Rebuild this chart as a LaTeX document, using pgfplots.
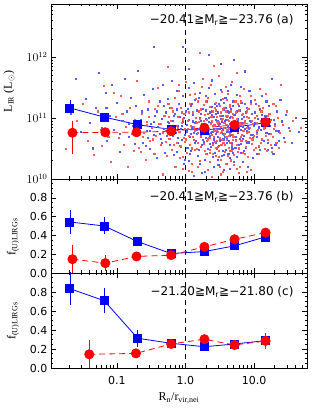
\documentclass[border=0pt]{standalone}
\usepackage{fontspec}
\setmainfont{Liberation Serif}
\newfontfamily\dejavu{DejaVu Sans}
\usepackage{pgfplots}
\pgfplotsset{compat=1.18}
\begin{document}
\begin{tikzpicture}[x=1pt,y=1pt]
\path[use as bounding box] (0,0) rectangle (315,409);

% ---------------- panel (a)
\begin{axis}[scale only axis, width=256pt, height=175pt, anchor=south west, at={(51pt,230pt)},
    xmode=log, xmin=0.011, xmax=59,
    ymode=log, ymin=1e10, ymax=7.5e12,
    axis line style={line width=0.7pt},
    every tick/.style={black, line width=0.5pt},
    major tick length=5pt, minor tick length=2.5pt,
    xtick={0.1,1,10}, xticklabels={},
    minor xtick={0.02,0.03,0.04,0.05,0.06,0.07,0.08,0.09,0.2,0.3,0.4,0.5,0.6,0.7,0.8,0.9,2,3,4,5,6,7,8,9,20,30,40,50},
    xtick pos=both, ytick pos=both, tick align=inside,
    ytick={1e10,1e11,1e12}, yticklabels={$10^{10}$,$10^{11}$,$10^{12}$},
    yticklabel style={font=\fontsize{12}{12}\selectfont},
    minor ytick={2e10,3e10,4e10,5e10,6e10,7e10,8e10,9e10,2e11,3e11,4e11,5e11,6e11,7e11,8e11,9e11,2e12,3e12,4e12,5e12,6e12,7e12}]
\addplot[only marks, color=blue!65, mark=square*, mark size=0.55pt, mark options={draw=none, fill=blue!65, fill opacity=0.8}] coordinates {
(0.021,1.2e11) (0.025,4.5e11) (0.03,6e10) (0.035,2.1e11) (0.04,8.5e10) (0.045,3.2e10) (0.05,1.5e11) (0.055,5.5e11) (0.06,7e10) (0.068,2.6e11) (0.072,4.2e10) (0.08,1.1e11) (0.085,3.5e11) (0.09,6.5e10) (0.1,1.8e11) (0.11,2.8e10) (0.12,9e10) (0.13,4.5e11) (0.14,1.3e11) (0.15,5e10) (0.16,2.2e11) (0.17,7.5e10) (0.18,3.8e10) (0.19,1.6e11) (0.2,6e11)
(0.22,9.5e10) (0.24,4e10) (0.25,2.4e11) (0.27,6.2e10) (0.28,1.4e11) (0.3,3.1e10) (0.31,8e10) (0.33,3e11) (0.35,5.3e10) (0.36,1.1e11) (0.38,2.2e10) (0.4,7.2e10) (0.42,1.9e11) (0.43,4.6e10) (0.45,9.8e10) (0.47,3.6e11) (0.48,6.6e10) (0.5,2.7e10) (0.52,1.25e11) (0.54,5.1e10) (0.55,2.1e11) (0.57,8.3e10) (0.59,3.7e10) (0.6,1.5e11)
(0.62,6.1e10) (0.64,4.1e11) (0.66,9e10) (0.68,2.5e10) (0.7,1.2e11) (0.72,5.7e10) (0.74,2.8e11) (0.76,7.4e10) (0.78,3.9e10) (0.8,1.7e11) (0.82,1.05e11) (0.85,6.8e10) (0.87,4.4e10) (0.9,2.3e11) (0.92,8.6e10) (0.95,1.8e10) (0.97,5.4e10) (1.0,1.3e11) (1.03,7.8e10) (1.06,3.3e10) (1.1,6.4e11) (1.12,9.4e10) (1.15,4.9e10) (1.18,1.6e11) (1.2,2.9e10) (1.25,7.1e10) (1.28,1.15e11) (1.3,3.8e11) (1.33,5.8e10) (1.37,2.0e11) (1.4,8.8e10) (1.43,4.3e10) (1.47,1.35e11) (1.5,2.4e10) (1.55,6.7e10) (1.6,1.0e11) (1.63,2.6e11) (1.67,5.2e10) (1.7,8.1e10) (1.75,3.6e10) (1.8,1.45e11) (1.85,6.3e10) (1.9,2.1e10) (1.95,9.7e10) (2.0,4.7e10) (2.05,1.9e11) (2.1,7.3e10) (2.15,3.2e11) (2.2,5.6e10) (2.25,1.25e11) (2.3,3.4e10) (2.35,8.4e10) (2.4,1.55e11) (2.45,6.0e10) (2.5,2.3e10) (2.55,1.05e11) (2.6,4.5e10) (2.65,2.5e11) (2.7,7.7e10) (2.75,3.9e10) (2.8,1.2e11) (2.85,5.9e10) (2.9,9.1e10) (3.0,1.7e10) (3.05,1.75e11) (3.1,6.6e10) (3.2,4.2e10) (3.25,1.1e11) (3.3,7.9e11) (3.4,8.7e10) (3.45,2.9e10) (3.5,5.5e10) (3.6,1.4e11) (3.7,7.0e10) (3.75,3.7e10) (3.8,2.2e11) (3.9,9.3e10) (4.0,4.8e10) (4.1,1.3e11) (4.2,2.6e10) (4.3,6.9e10) (4.4,1.0e11) (4.5,3.5e11) (4.6,5.3e10) (4.7,8.0e10) (4.8,3.1e10) (4.9,1.6e11) (5.0,6.2e10) (5.1,1.95e10) (5.2,1.15e11) (5.35,4.4e10) (5.5,7.6e10) (5.6,2.4e11) (5.7,5.7e10) (5.85,9.6e10) (6.0,3.6e10) (6.1,1.35e11) (6.3,6.5e10) (6.4,2.7e10) (6.5,1.8e11) (6.7,8.5e10) (6.9,4.6e10) (7.0,1.05e11) (7.2,5.9e11) (7.4,6.8e10) (7.6,3.3e10) (7.8,1.5e11) (8.0,7.2e10) (8.2,4.1e10) (8.5,2.8e11) (8.7,9.2e10) (9.0,5.4e10) (9.3,1.2e11) (9.6,2.2e10) (10,7.5e10) (10.4,1.7e11) (10.8,4.9e10) (11.2,9.9e10) (11.6,3.4e10) (12,1.4e11) (12.5,6.4e10) (13,2.3e11) (13.5,8.2e10) (14,4.3e10) (14.5,1.1e11) (15,5.8e10) (15.6,3.0e10) (16.2,1.6e11) (17,7.4e10) (17.8,4.5e11) (18.5,5.0e10) (19.4,9.5e10) (20.3,3.7e10) (21.5,1.3e11) (22.6,6.1e10) (24,2.0e11) (25.5,8.9e10) (27,4.7e10) (29,1.15e11) (32,7e10) (35,3.9e10) (40,1.0e11) (2.2,1.1e12) (0.9,1.5e12) (5,9e11) (1.7,1.25e10) (3.6,1.4e10) (8,1.6e10) (0.35,1.5e12) (45,6e10)
(0.55,8.8e10) (0.65,5.1e10) (0.75,1.4e11) (0.85,3.4e10) (0.95,1.0e11) (1.05,6.1e10) (1.15,2.6e10) (1.25,1.75e11) (1.35,8.3e10) (1.45,5.5e10) (1.55,3.0e10) (1.65,1.2e11) (1.75,7.6e10) (1.85,4.1e10) (1.95,2.3e11) (2.05,6.9e10) (2.15,1.0e11) (2.25,3.8e10) (2.35,5.8e10) (2.45,1.3e11) (2.55,7.9e10) (2.65,2.7e10) (2.75,9.3e10) (2.85,1.6e11) (2.95,5.0e10) (3.05,3.5e10) (3.15,8.0e10) (3.25,2.0e11) (3.35,6.3e10) (3.45,1.1e11) (3.55,4.5e10) (3.65,2.5e10) (3.75,9.0e10) (3.85,1.5e11) (3.95,6.0e10) (4.05,3.9e10) (4.15,7.5e10) (4.25,1.25e11) (4.35,5.2e10) (4.45,2.2e10) (4.55,1.05e11) (4.65,6.6e10) (4.75,4.0e10) (4.85,1.9e11) (4.95,8.6e10) (5.3,3.3e10) (5.6,1.3e11) (5.9,7.0e10) (6.2,4.6e10) (6.6,9.9e10) (7.0,2.9e10) (7.4,1.7e11) (7.8,6.1e10) (8.3,3.9e10) (8.8,8.8e10) (9.4,5.3e10) (10.1,1.25e11) (10.9,2.6e10) (11.8,7.1e10) (12.8,4.5e10) (13.8,9.5e10) (15,1.9e11) (16.5,5.6e10) (18,3.3e10) (20,8.1e10) (0.45,4.0e10) (0.38,1.3e11) (0.3,6.3e10) (0.26,3.5e10) (1.9,1.3e10) (2.6,1.6e10) (4.4,1.5e10) (6.8,1.9e10) (1.3,1.15e10)
(0.58,6.9e10) (0.68,1.1e11) (0.78,4.7e10) (0.88,7.5e10) (0.98,2.1e10) (1.08,1.45e11) (1.18,5.6e10) (1.28,8.9e10) (1.38,3.9e10) (1.48,6.4e10) (1.58,2.2e11) (1.68,9.2e10) (1.78,4.4e10) (1.88,7.0e10) (1.98,1.35e11) (2.08,3.1e10) (2.18,8.6e10) (2.28,5.2e10) (2.38,1.15e11) (2.48,4.0e10) (2.58,6.8e10) (2.68,1.7e11) (2.78,5.5e10) (2.88,3.2e10) (2.98,1.25e11) (3.08,7.4e10) (3.18,4.6e10) (3.28,9.8e10) (3.38,2.4e10) (3.48,6.5e10) (3.58,1.8e11) (3.68,8.3e10) (3.78,5.0e10) (3.88,3.0e10) (3.98,1.05e11) (4.08,6.1e10) (4.18,2.8e11) (4.28,4.2e10) (4.38,8.1e10) (4.48,5.9e10) (4.58,1.4e11) (4.68,3.4e10) (4.78,7.7e10) (4.88,2.7e10) (4.98,1.15e11) (5.4,5.0e10) (5.75,8.7e10) (6.05,1.6e11) (6.4,3.8e10) (6.75,7.3e10) (7.1,5.2e10) (7.5,1.25e11) (7.95,4.0e10) (8.45,6.6e10) (9.0,1.9e11) (9.6,4.7e10) (10.3,8.5e10) (11.0,5.9e10) (11.9,3.0e10) (12.9,1.15e11) (14.2,6.9e10) (15.7,4.0e10) (17.2,9.3e10) (19,2.6e10) (21,6.3e10) (23,4.2e10) (0.48,1.6e11) (0.42,5.6e10) (0.34,8.6e10) (0.28,4.7e10) (0.23,1.3e11) (1.12,2.0e10) (2.02,2.6e10) (2.95,2.1e10) (4.0,1.8e10) (5.5,2.3e10) (1.6,1.8e10) (0.75,2.8e10) (3.3,2.9e11) (1.1,3.2e11) (2.4,4.2e11) (6.3,3.3e11) (0.15,8e10) (0.07,1.5e11) (0.11,5.5e10)
};
\addplot[only marks, color=red!65, mark=square*, mark size=0.55pt, mark options={draw=none, fill=red!65, fill opacity=0.8}] coordinates {
(0.018,3.1e10) (0.026,9e10) (0.032,1.7e11) (0.038,4.2e10) (0.046,2.5e10) (0.052,1.3e11) (0.058,6.5e10) (0.065,3.4e11) (0.075,5e10) (0.082,1.9e10) (0.095,1.05e11) (0.105,4.8e10) (0.115,2.3e11) (0.125,3.6e10) (0.135,7.2e10) (0.145,1.6e10) (0.155,1.5e11) (0.165,5.6e10) (0.175,2.9e10) (0.185,9.5e10) (0.195,4.1e11)
(0.21,3.3e10) (0.23,1.2e11) (0.245,5.8e10) (0.26,2.1e10) (0.275,8.8e10) (0.29,1.9e11) (0.305,4.3e10) (0.32,6.9e10) (0.34,2.6e10) (0.355,1.45e11) (0.37,5.1e10) (0.39,3.2e11) (0.41,8.2e10) (0.44,3.7e10) (0.46,1.2e10) (0.49,1.1e11) (0.51,6.3e10) (0.53,2.4e10) (0.56,1.75e11) (0.58,4.6e10)
(0.61,9.2e10) (0.63,3.0e10) (0.65,1.3e11) (0.67,5.5e10) (0.69,2.2e11) (0.71,1.6e10) (0.73,7.6e10) (0.75,4.0e10) (0.77,1.05e11) (0.79,2.8e11) (0.81,6.0e10) (0.84,3.5e10) (0.86,1.5e11) (0.89,8.3e10) (0.91,2.3e10) (0.94,4.8e10) (0.96,1.2e11) (0.99,6.8e10) (1.02,3.9e11) (1.05,2.7e10) (1.08,9.0e10) (1.11,5.2e10) (1.14,1.7e11) (1.17,3.6e10) (1.21,7.4e10) (1.24,1.3e10) (1.27,1.25e11) (1.31,4.4e10) (1.35,2.5e11) (1.38,6.2e10) (1.42,1.0e11) (1.46,3.1e10) (1.49,1.9e11) (1.53,5.7e10) (1.58,8.6e10) (1.62,2.0e10) (1.66,1.4e11) (1.69,4.9e10) (1.73,3.3e11) (1.78,7.0e10) (1.83,3.8e10) (1.88,1.15e11) (1.93,5.9e10) (1.98,2.6e10) (2.03,9.4e10) (2.08,2.2e11) (2.13,4.5e10) (2.18,6.7e10) (2.23,1.55e11) (2.28,3.0e10) (2.33,8.0e10) (2.38,1.1e10) (2.43,5.3e10) (2.48,1.3e11) (2.53,3.7e10) (2.58,7.3e11) (2.63,7.8e10) (2.68,4.1e10) (2.73,1.8e11) (2.78,2.4e10) (2.83,6.4e10) (2.88,1.05e11) (2.95,3.4e10) (3.02,5.0e11) (3.08,8.7e10) (3.15,4.7e10) (3.22,1.25e11) (3.28,2.1e10) (3.35,6.1e10) (3.42,2.7e11) (3.48,9.8e10) (3.55,3.9e10) (3.65,1.5e11) (3.72,5.6e10) (3.82,1.8e10) (3.88,7.9e10) (3.95,2.0e11) (4.05,4.4e10) (4.15,1.1e11) (4.25,6.6e10) (4.35,2.9e10) (4.45,1.65e11) (4.55,8.4e10) (4.65,3.6e10) (4.75,4.0e11) (4.85,5.4e10) (4.95,1.2e11) (5.05,2.5e10) (5.15,7.1e10) (5.3,1.9e11) (5.45,4.3e10) (5.55,9.7e10) (5.65,1.5e10) (5.8,6.0e10) (5.95,1.35e11) (6.05,3.2e10) (6.2,2.3e11) (6.35,7.7e10) (6.45,4.9e10) (6.6,1.15e11) (6.8,2.7e10) (6.95,6.3e10) (7.1,3.0e11) (7.3,8.9e10) (7.5,4.2e10) (7.7,1.3e11) (7.9,5.8e10) (8.1,2.3e10) (8.4,1.0e11) (8.6,6.9e10) (8.9,1.7e11) (9.2,3.8e10) (9.5,8.1e10) (9.8,5.2e10) (10.2,2.0e11) (10.6,3.3e10) (11,1.1e11) (11.4,6.5e10) (11.8,2.6e10) (12.3,9.0e10) (12.8,4.6e10) (13.3,1.5e11) (13.8,6.8e10) (14.3,3.1e10) (14.8,2.5e11) (15.3,8.3e10) (15.9,4.4e10) (16.6,1.2e11) (17.4,5.5e10) (18.2,2.8e10) (19,1.7e11) (19.9,7.6e10) (21,3.9e10) (22,1.0e11) (23.3,5.7e10) (24.7,3.5e11) (26.2,7.9e10) (28,4.1e10) (30,1.3e11) (33,6.2e10) (37,9e10) (0.55,7e11) (1.6,1.2e12) (3.5,1.3e10) (6,1.25e10) (1.1,1.35e10) (9,1.4e10) (48,7e10)
(0.52,4.1e10) (0.62,1.5e11) (0.72,6.5e10) (0.82,2.2e10) (0.92,9.6e10) (1.02,4.5e10) (1.12,1.25e11) (1.22,3.2e10) (1.32,7.3e10) (1.42,2.1e11) (1.52,4.0e10) (1.62,9.8e10) (1.72,6.0e10) (1.82,1.65e11) (1.92,2.9e10) (2.02,7.5e10) (2.12,1.2e11) (2.22,4.8e10) (2.32,3.5e11) (2.42,8.9e10) (2.52,2.6e10) (2.62,6.2e10) (2.72,1.35e11) (2.82,4.3e10) (2.92,8.2e10) (3.02,2.3e10) (3.12,1.6e11) (3.22,5.7e10) (3.32,3.6e10) (3.42,9.4e10) (3.52,1.4e11) (3.62,6.9e10) (3.72,2.8e10) (3.82,1.1e11) (3.92,4.9e10) (4.02,7.8e10) (4.12,2.5e11) (4.22,3.3e10) (4.32,9.0e10) (4.42,5.6e10) (4.52,1.3e11) (4.62,2.0e10) (4.72,7.2e10) (4.82,4.4e10) (4.92,1.0e11) (5.25,6.4e10) (5.55,3.7e10) (5.85,1.75e11) (6.15,8.5e10) (6.5,4.2e10) (6.9,1.2e11) (7.3,2.6e10) (7.7,7.0e10) (8.2,1.45e11) (8.7,4.8e10) (9.3,9.2e10) (10,3.0e10) (10.8,6.3e10) (11.6,1.6e11) (12.5,3.9e10) (13.5,7.8e10) (14.7,5.1e10) (16,1.1e11) (17.5,3.6e10) (19.5,6.7e10) (0.43,8.0e10) (0.36,2.6e10) (0.29,1.05e11) (0.24,5.0e10) (2.1,1.4e10) (3.3,1.2e10) (5.1,1.7e10) (7.9,1.3e10) (1.5,1.6e10)
(0.57,1.05e11) (0.67,3.7e10) (0.77,7.0e10) (0.87,1.25e11) (0.97,4.1e10) (1.07,6.6e10) (1.17,2.4e11) (1.27,5.0e10) (1.37,3.0e10) (1.47,8.5e10) (1.57,1.3e11) (1.67,3.4e10) (1.77,5.8e10) (1.87,9.0e10) (1.97,1.9e11) (2.07,4.2e10) (2.17,6.4e10) (2.27,2.7e10) (2.37,1.05e11) (2.47,7.6e10) (2.57,4.9e10) (2.67,1.5e11) (2.77,3.3e10) (2.87,8.8e10) (2.97,6.0e10) (3.07,2.9e10) (3.17,1.1e11) (3.27,7.2e10) (3.37,4.4e10) (3.47,2.1e11) (3.57,5.4e10) (3.67,8.4e10) (3.77,3.7e10) (3.87,1.3e11) (3.97,6.5e10) (4.07,2.4e10) (4.17,9.5e10) (4.27,5.1e10) (4.37,1.55e11) (4.47,3.9e10) (4.57,6.8e10) (4.67,1.05e11) (4.77,2.9e10) (4.87,8.0e10) (4.97,5.0e10) (5.35,1.25e11) (5.7,2.8e10) (6.0,7.4e10) (6.35,1.9e11) (6.7,5.3e10) (7.05,8.3e10) (7.45,3.4e10) (7.85,1.05e11) (8.35,6.0e10) (8.85,2.3e11) (9.4,4.5e10) (10.1,1.0e11) (10.9,5.5e10) (11.8,3.5e10) (12.7,1.3e11) (13.9,7.2e10) (15.4,2.9e10) (16.9,8.9e10) (18.6,5.0e10) (20.5,1.6e11) (22.5,3.3e10) (0.47,5.7e10) (0.4,1.6e11) (0.33,4.5e10) (0.27,7.7e10) (0.22,2.8e10) (1.25,1.8e10) (2.25,1.9e10) (3.15,1.6e10) (4.5,2.1e10) (6.2,1.6e10) (0.9,1.5e10) (1.8,4.5e11) (3.9,3.3e11) (0.8,3.6e11) (5.6,5.5e11) (12,3.0e11) (0.12,1.2e11) (0.06,3.5e10) (0.09,2.6e11)
};
\addplot[black, line width=0.6pt, dash pattern=on 5pt off 4pt] coordinates {(1,1e10) (1,7.5e12)};
\addplot[blue, line width=0.8pt, mark=square*, mark size=4pt, mark options={solid},
   error bars/y dir=both, error bars/y explicit,
   error bars/error bar style={line width=0.6pt, solid},
   error bars/error mark options={mark size=2pt, line width=0.6pt, solid}] coordinates {
(0.0207,1.47e11) += (0,0.40e11) -= (0,0.26e11)
(0.0657,1.04e11) += (0,0.10e11) -= (0,0.08e11)
(0.201,7.8e10) +- (0,0.5e10)
(0.618,6.5e10) +- (0,0.3e10)
(1.89,6.4e10) +- (0,0.3e10)
(5.19,7.1e10) +- (0,0.3e10)
(14.7,8.4e10) +- (0,0.5e10)
};
\addplot[red, line width=0.8pt, dash pattern=on 6pt off 4pt, mark=*, mark size=4.6pt, mark options={solid},
   error bars/y dir=both, error bars/y explicit,
   error bars/error bar style={line width=0.6pt, solid},
   error bars/error mark options={mark size=2pt, line width=0.6pt, solid}] coordinates {
(0.0226,5.75e10) += (0,2.65e10) -= (0,2.95e10)
(0.068,5.85e10) +- (0,0.6e10)
(0.194,5.85e10) +- (0,0.4e10)
(0.618,6.1e10) +- (0,0.3e10)
(1.89,6.95e10) +- (0,0.3e10)
(5.19,7.75e10) +- (0,0.4e10)
(14.7,8.6e10) +- (0,0.6e10)
};
\end{axis}

% ---------------- panel (b)
\begin{axis}[scale only axis, width=256pt, height=94pt, anchor=south west, at={(51pt,136pt)},
    xmode=log, xmin=0.011, xmax=59,
    ymin=0, ymax=1.0, ytick={0,0.2,0.4,0.6,0.8}, yticklabels={0.0,0.2,0.4,0.6,0.8},
    minor ytick={0.05,0.1,0.15,0.25,0.3,0.35,0.45,0.5,0.55,0.65,0.7,0.75,0.85,0.9,0.95},
    axis line style={line width=0.7pt},
    every tick/.style={black, line width=0.5pt},
    major tick length=5pt, minor tick length=2.5pt,
    xtick={0.1,1,10}, xticklabels={},
    minor xtick={0.02,0.03,0.04,0.05,0.06,0.07,0.08,0.09,0.2,0.3,0.4,0.5,0.6,0.7,0.8,0.9,2,3,4,5,6,7,8,9,20,30,40,50},
    xtick pos=both, ytick pos=both, tick align=inside,
    yticklabel style={font=\dejavu\fontsize{11}{12}\selectfont}]
\addplot[black, line width=0.6pt, dash pattern=on 5pt off 4pt] coordinates {(1,0) (1,1)};
\addplot[blue, line width=0.8pt, mark=square*, mark size=4pt, mark options={solid},
   error bars/y dir=both, error bars/y explicit,
   error bars/error bar style={line width=0.6pt, solid},
   error bars/error mark options={mark size=2pt, line width=0.6pt, solid}] coordinates {
(0.0207,0.543) += (0,0.106) -= (0,0.103)
(0.0657,0.50) += (0,0.07) -= (0,0.063)
(0.201,0.334) +- (0,0.02)
(0.618,0.207) +- (0,0.02)
(1.89,0.228) +- (0,0.02)
(5.19,0.289) +- (0,0.02)
(14.7,0.384) +- (0,0.03)
};
\addplot[red, line width=0.8pt, dash pattern=on 6pt off 4pt, mark=*, mark size=4.6pt, mark options={solid},
   error bars/y dir=both, error bars/y explicit,
   error bars/error bar style={line width=0.6pt, solid},
   error bars/error mark options={mark size=2pt, line width=0.6pt, solid}] coordinates {
(0.0226,0.147) += (0,0.13) -= (0,0.15)
(0.068,0.105) +- (0,0.06)
(0.194,0.176) +- (0,0.02)
(0.618,0.19) +- (0,0.02)
(1.89,0.278) +- (0,0.02)
(5.19,0.359) +- (0,0.02)
(14.7,0.43) +- (0,0.03)
};
\end{axis}

% ---------------- panel (c)
\begin{axis}[scale only axis, width=256pt, height=95pt, anchor=south west, at={(51pt,41pt)},
    xmode=log, xmin=0.011, xmax=59,
    ymin=0, ymax=1.0, ytick={0,0.2,0.4,0.6,0.8}, yticklabels={0.0,0.2,0.4,0.6,0.8},
    minor ytick={0.05,0.1,0.15,0.25,0.3,0.35,0.45,0.5,0.55,0.65,0.7,0.75,0.85,0.9,0.95},
    axis line style={line width=0.7pt},
    every tick/.style={black, line width=0.5pt},
    major tick length=5pt, minor tick length=2.5pt,
    xtick={0.1,1,10}, xticklabels={0.1,1.0,10.0},
    minor xtick={0.02,0.03,0.04,0.05,0.06,0.07,0.08,0.09,0.2,0.3,0.4,0.5,0.6,0.7,0.8,0.9,2,3,4,5,6,7,8,9,20,30,40,50},
    xtick pos=both, ytick pos=both, tick align=inside,
    yticklabel style={font=\dejavu\fontsize{11}{12}\selectfont},
    xticklabel style={font=\dejavu\fontsize{11}{12}\selectfont, yshift=-5pt}]
\addplot[black, line width=0.6pt, dash pattern=on 5pt off 4pt] coordinates {(1,0) (1,1)};
\addplot[blue, line width=0.8pt, mark=square*, mark size=4pt, mark options={solid},
   error bars/y dir=both, error bars/y explicit,
   error bars/error bar style={line width=0.6pt, solid},
   error bars/error mark options={mark size=2pt, line width=0.6pt, solid}] coordinates {
(0.0207,0.835) +- (0,0.15)
(0.0657,0.708) +- (0,0.11)
(0.201,0.313) +- (0,0.07)
(0.618,0.26) +- (0,0.02)
(1.89,0.224) +- (0,0.02)
(5.19,0.253) +- (0,0.02)
(14.7,0.288) +- (0,0.03)
};
\addplot[red, line width=0.8pt, dash pattern=on 6pt off 4pt, mark=*, mark size=4.6pt, mark options={solid},
   error bars/y dir=both, error bars/y explicit,
   error bars/error bar style={line width=0.6pt, solid},
   error bars/error mark options={mark size=2pt, line width=0.6pt, solid}] coordinates {
(0.0397,0.144) += (0,0.133) -= (0,0.144)
(0.19,0.154) +- (0,0.03)
(0.618,0.253) +- (0,0.02)
(1.89,0.303) +- (0,0.03)
(5.19,0.242) +- (0,0.03)
(14.7,0.285) +- (0,0.06)
};
\end{axis}

% ---------------- labels and annotations
\node[rotate=90] at (9,317.5) {\fontsize{12}{14}\selectfont L\textsubscript{IR} (L$_\odot$)};
\node[rotate=90] at (13,172) {\fontsize{12}{14}\selectfont f\textsubscript{(U)LIRGs}};
\node[rotate=90] at (13,88) {\fontsize{12}{14}\selectfont f\textsubscript{(U)LIRGs}};
\node at (179,11) {\fontsize{12}{14}\selectfont R\textsubscript{n}/r\textsubscript{vir,nei}};
\node[anchor=east] at (297,389) {\dejavu\fontsize{12}{14}\selectfont −20.41≧M\textsubscript{r}≧−23.76 (a)};
\node[anchor=east] at (297,212) {\dejavu\fontsize{12}{14}\selectfont −20.41≧M\textsubscript{r}≧−23.76 (b)};
\node[anchor=east] at (297,117) {\dejavu\fontsize{12}{14}\selectfont −21.20≧M\textsubscript{r}≧−21.80 (c)};
\end{tikzpicture}
\end{document}
